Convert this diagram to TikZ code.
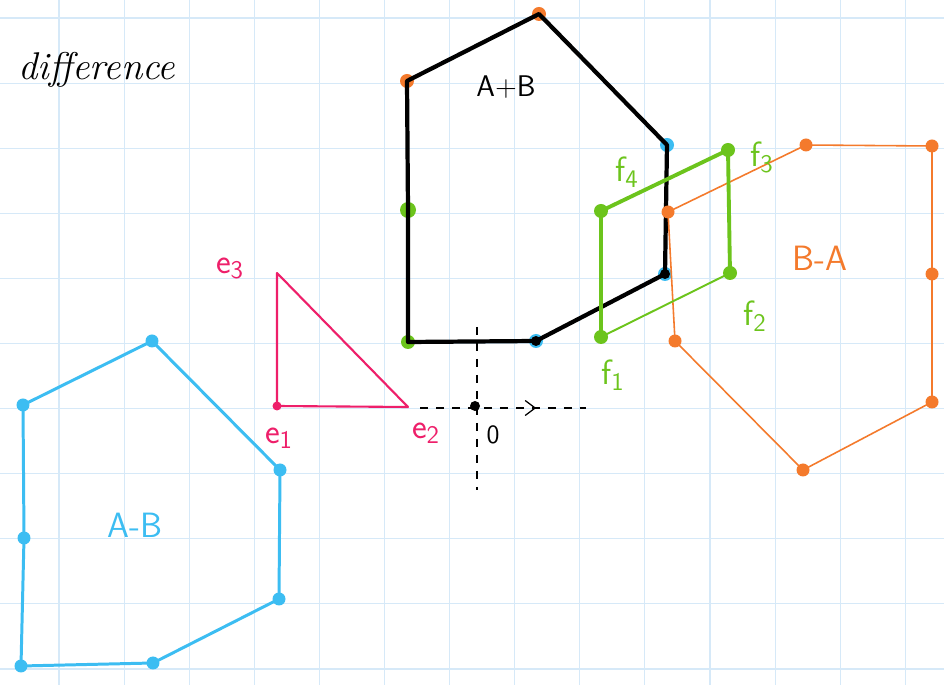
\documentclass[tikz,border=0pt]{standalone}
\usepackage{amsmath}
\usepackage{tikz}
\usetikzlibrary{arrows.meta,positioning,decorations.markings}
\definecolor{pgrid}{HTML}{D6E9F8}
\definecolor{pblue}{HTML}{3CBDF2}
\definecolor{porange}{HTML}{F47A2C}
\definecolor{pgreen}{HTML}{6CC41C}
\definecolor{ppink}{HTML}{EE1F6A}
\tikzset{
  % grid paper and polygon strokes
  gridline/.style = {pgrid, line width=0.6pt},
  poly/.style     = {draw=#1, line join=round, line cap=round},
  dot/.style      = {circle, fill=#1, inner sep=0pt, minimum size=2.8mm},
  dot/.default    = black,
  lbl/.style      = {font=\sffamily\fontsize{20}{22}\selectfont, text=#1, inner sep=1pt},
  axis/.style     = {dashed, dash pattern=on 1.6mm off 1.6mm, line width=0.7pt},
}

\begin{document}
\begin{tikzpicture}[x=0.02cm,y=-0.02cm]
\useasboundingbox[fill=white] (0,0) rectangle (944,685);
\foreach \x in {59,124.1,...,944} {\draw[gridline] (\x,0) -- (\x,685);}
\foreach \y in {18,83.1,...,685} {\draw[gridline] (0,\y) -- (944,\y);}

\node[font=\itshape\fontsize{22}{24}\selectfont, anchor=west] (title) at (12,70) {difference};

% A+B
\coordinate (s1) at (407,81);  \coordinate (s2) at (539,14);
\coordinate (s3) at (667,145); \coordinate (s4) at (665,274);
\coordinate (s5) at (536,341); \coordinate (s6) at (408,342);
\coordinate (s7) at (408,210);
\node[dot=porange] at (s1) {}; \node[dot=porange] at (s2) {};
\node[dot=pblue] at (s3) {};   \node[dot=pblue] at (s4) {};
\node[dot=pblue] at (s5) {};   \node[dot=pgreen] at (s6) {};
\node[dot=pgreen, minimum size=3.2mm] at (s7) {};
\draw[poly=black, line width=2.4pt] (s1) -- (s2) -- (s3) -- (s4) -- (s5) -- (s6) -- (s7) -- cycle;
\node[dot, minimum size=2mm] at (s4) {};
\node[dot, minimum size=2mm] at (s5) {};
\node[lbl=black, font=\sffamily\fontsize{17}{20}\selectfont] (sum) at (506,87) {A+B};

% B-A
\coordinate (r1) at (668,212); \coordinate (r2) at (806,145);
\coordinate (r3) at (932,146); \coordinate (r4) at (932,274);
\coordinate (r5) at (932,402); \coordinate (r6) at (803,470);
\coordinate (r7) at (675,341);
\draw[poly=porange, line width=0.9pt] (r1) -- (r2) -- (r3) -- (r4) -- (r5) -- (r6) -- (r7) -- cycle;
\foreach \v in {r1,r2,r3,r4,r5,r6,r7} {\node[dot=porange, minimum size=2.6mm] at (\v) {};}
\node[lbl=porange] (ba) at (820,258) {B-A};

% parallelogram f
\coordinate (f1) at (601,337); \coordinate (f2) at (730,273);
\coordinate (f3) at (728,150); \coordinate (f4) at (601,211);
\draw[poly=pgreen, line width=2.2pt] (f1) -- (f4) -- (f3) -- (f2);
\draw[poly=pgreen, line width=1.1pt] (f1) -- (f2);
\foreach \v in {f1,f2,f3,f4} {\node[dot=pgreen] at (\v) {};}
\node[lbl=pgreen] at (627,172) {f$_{\mathsf{4}}$};
\node[lbl=pgreen] at (762,157) {f$_{\mathsf{3}}$};
\node[lbl=pgreen] at (755,316) {f$_{\mathsf{2}}$};
\node[lbl=pgreen] at (613,375) {f$_{\mathsf{1}}$};

% A-B
\coordinate (m1) at (152,341); \coordinate (m2) at (23,405);
\coordinate (m3) at (24,538);  \coordinate (m4) at (21,666);
\coordinate (m5) at (153,663); \coordinate (m6) at (279,599);
\coordinate (m7) at (280,470);
\draw[poly=pblue, line width=1.7pt] (m1) -- (m2) -- (m3) -- (m4) -- (m5) -- (m6) -- (m7) -- cycle;
\foreach \v in {m1,m2,m3,m4,m5,m6,m7} {\node[dot=pblue, minimum size=2.6mm] at (\v) {};}
\node[lbl=pblue] (ab) at (135,525) {A-B};

% triangle e
\coordinate (e1) at (277,406); \coordinate (e2) at (408,407);
\coordinate (e3) at (277,273);
\draw[poly=ppink, line width=1.2pt] (e1) -- (e2) -- (e3) -- cycle;
\node[dot=ppink, minimum size=1.8mm] at (e1) {};
\node[lbl=ppink] at (230,268) {e$_{\mathsf{3}}$};
\node[lbl=ppink] at (279,438) {e$_{\mathsf{1}}$};
\node[lbl=ppink] at (426,433) {e$_{\mathsf{2}}$};

% origin and axes
\node[dot, minimum size=2mm] (o) at (475,406) {};
\coordinate (xend) at (586,408);
\coordinate (ytop) at (477,327);
\coordinate (ybot) at (477,490);
\draw[axis, postaction={decorate}, decoration={markings,
  mark=at position 0.7 with {\arrow{Straight Barb[length=2mm,width=3mm]}}}] (420,408) -- (xend);
\draw[axis] (ytop) -- (ybot);
\node[font=\sffamily\fontsize{15}{18}\selectfont] (zero) at (493,435) {0};
\end{tikzpicture}
\end{document}
